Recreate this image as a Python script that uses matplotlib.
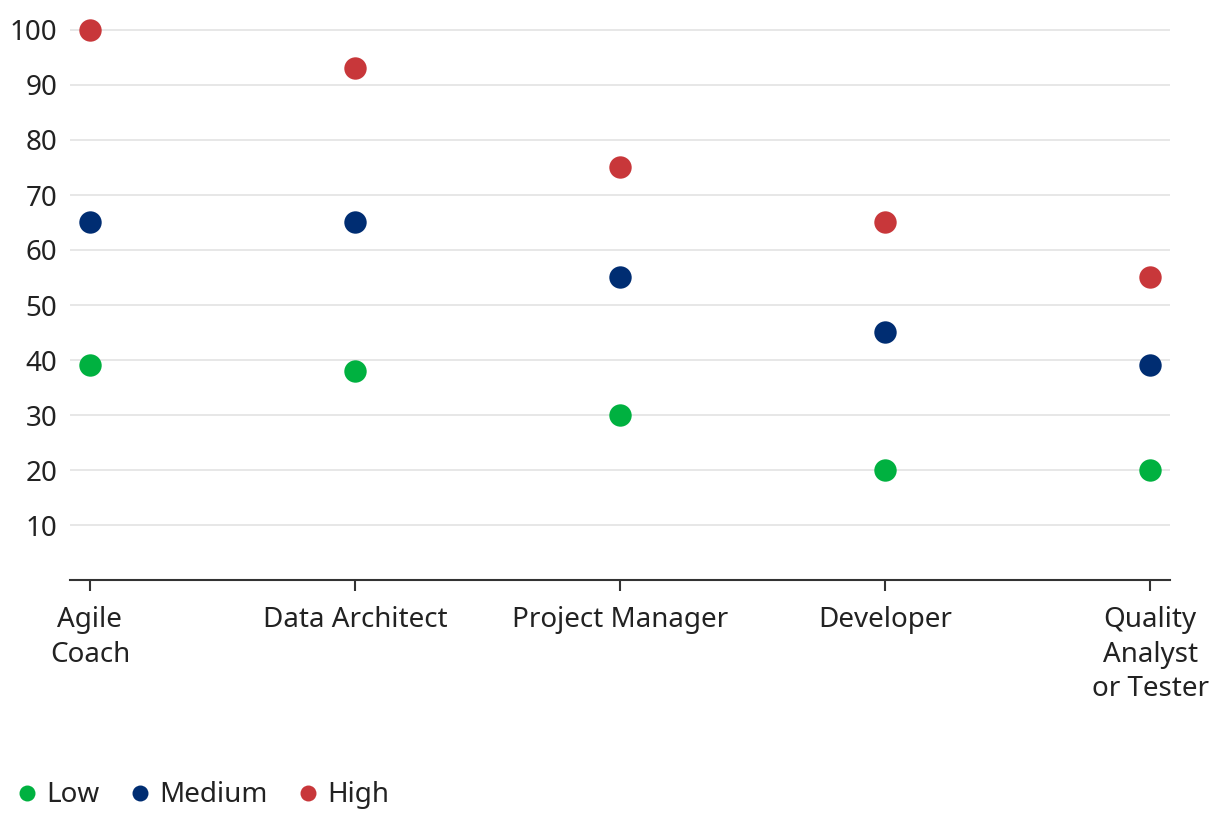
import matplotlib
matplotlib.use("Agg")
import matplotlib.pyplot as plt
from matplotlib.lines import Line2D

plt.rcParams['font.family'] = ['Noto Sans', 'DejaVu Sans']

# data
roles = ['Agile\nCoach', 'Data Architect', 'Project Manager', 'Developer', 'Quality\nAnalyst\nor Tester']
low = [39, 38, 30, 20, 20]
medium = [65, 65, 55, 45, 39]
high = [100, 93, 75, 65, 55]
series_names = ['Low', 'Medium', 'High']
colors = ['#00b140', '#002d72', '#c8373a']

fig = plt.figure(figsize=(12.2, 8.22), dpi=100)
ax = fig.add_axes([70 / 1220, (822 - 580) / 822, 1100 / 1220, 572 / 822])

x = list(range(len(roles)))
for vals, c in zip([low, medium, high], colors):
    ax.scatter(x, vals, s=260, color=c, zorder=3, linewidths=0)

ax.set_xlim(-0.075, len(roles) - 1 + 0.075)
ax.set_ylim(0, 104)
ax.set_yticks(range(10, 101, 10))
ax.set_xticks(x)
ax.set_xticklabels(roles, linespacing=1.3)

ax.grid(axis='y', color='#e3e3e3', linewidth=1.2, zorder=0)
for s in ['left', 'right', 'top']:
    ax.spines[s].set_visible(False)
ax.spines['bottom'].set_color('#333333')
ax.spines['bottom'].set_linewidth(1.5)
ax.tick_params(axis='y', length=0, pad=9, labelsize=20, labelcolor='#222222')
ax.tick_params(axis='x', length=8, width=1.5, color='#333333', pad=11,
               labelsize=20, labelcolor='#222222')

handles = [Line2D([], [], marker='o', linestyle='', markersize=11.5, color=c,
                  markeredgewidth=0) for c in colors]
fig.legend(handles, series_names, loc='lower left', bbox_to_anchor=(-0.01, -0.015),
           ncol=3, frameon=False, fontsize=20, handletextpad=0.2,
           columnspacing=0.95, handlelength=1.0, labelcolor='#222222')

fig.savefig('out.png', dpi=100)
